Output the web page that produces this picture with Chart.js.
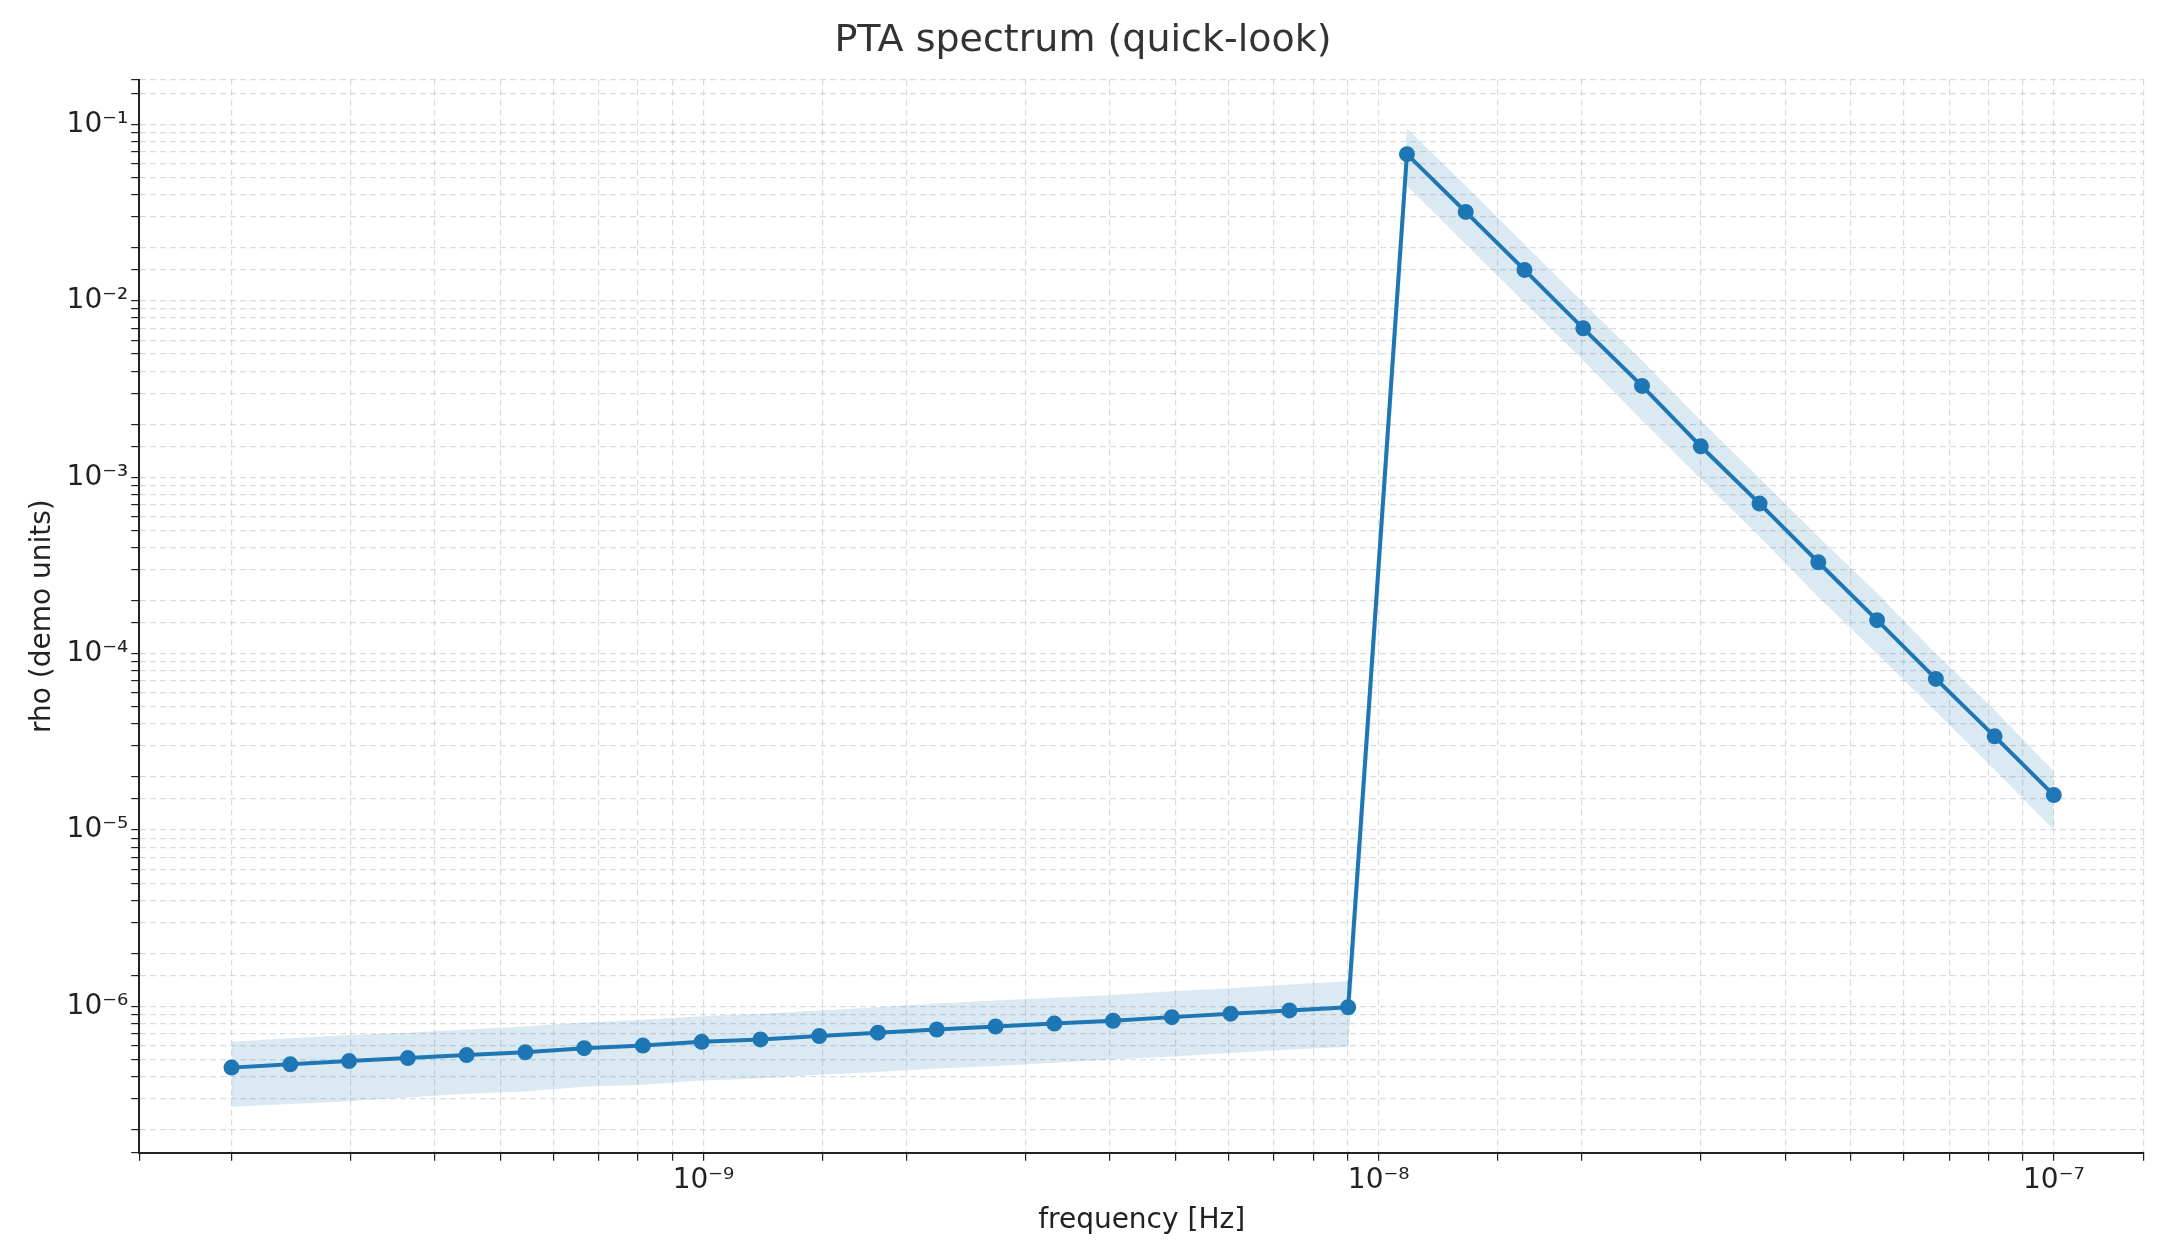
<!DOCTYPE html>
<html><head><meta charset="utf-8">
<script src="https://cdn.jsdelivr.net/npm/chart.js@4"></script>
<style>body{margin:0;background:#fff}#wrap{width:2160px;height:1260px}</style>
</head><body><div id="wrap"><canvas id="c"></canvas></div>
<script>
const freq = [2.000e-10,2.444e-10,2.986e-10,3.649e-10,4.459e-10,5.448e-10,6.657e-10,8.134e-10,9.939e-10,1.2145e-9,
  1.484e-9,1.813e-9,2.216e-9,2.708e-9,3.309e-9,4.043e-9,4.940e-9,6.036e-9,7.376e-9,9.013e-9,
  1.1013e-8,1.3457e-8,1.6443e-8,2.0092e-8,2.455e-8,3.0e-8,3.666e-8,4.479e-8,5.473e-8,6.688e-8,8.172e-8,1.0e-7];
const rho = [4.5e-7,4.7e-7,4.9e-7,5.1e-7,5.3e-7,5.5e-7,5.8e-7,6.0e-7,6.3e-7,6.5e-7,
  6.8e-7,7.1e-7,7.4e-7,7.7e-7,8.0e-7,8.3e-7,8.7e-7,9.1e-7,9.5e-7,9.9e-7,
  0.068,0.032,0.015,0.0070,0.0033,0.0015,0.00071,0.00033,0.000155,0.000072,0.000034,0.0000158];
const rhoLo = [2.7e-7,2.8e-7,2.9e-7,3.05e-7,3.2e-7,3.3e-7,3.5e-7,3.6e-7,3.8e-7,3.9e-7,
  4.1e-7,4.25e-7,4.45e-7,4.6e-7,4.8e-7,5.0e-7,5.2e-7,5.45e-7,5.7e-7,5.9e-7,
  0.045,0.021,0.0098,0.0046,0.0021,0.00098,0.00046,0.00021,0.0001,0.000047,0.000022,0.0000100];
const rhoHi = [6.3e-7,6.6e-7,6.9e-7,7.1e-7,7.4e-7,7.7e-7,8.1e-7,8.4e-7,8.8e-7,9.1e-7,
  9.5e-7,9.9e-7,1.04e-6,1.08e-6,1.12e-6,1.16e-6,1.22e-6,1.27e-6,1.33e-6,1.39e-6,
  0.095,0.045,0.021,0.0098,0.0046,0.0021,0.00099,0.00046,0.00022,0.0001,0.000048,0.0000215];

const pts = a => a.map((v, i) => ({x: freq[i], y: v}));
const sup = {'-':'⁻','0':'⁰','1':'¹','2':'²','3':'³','4':'⁴','5':'⁵','6':'⁶','7':'⁷','8':'⁸','9':'⁹'};
function pow10(v) {
  const e = Math.log10(v);
  if (Math.abs(e - Math.round(e)) > 1e-6) return '';
  return '10' + String(Math.round(e)).split('').map(ch => sup[ch]).join('');
}
const grid = {color: 'rgba(190,190,190,0.55)', lineWidth: 1.2, tickColor: '#222', tickLength: 8, drawTicks: true};
const border = {color: '#222', width: 2, dash: [6, 4]};
const font = {family: 'DejaVu Sans', size: 28};

new Chart(document.getElementById('c'), {
  type: 'line',
  data: {
    datasets: [
      {data: pts(rhoLo), borderWidth: 0, pointRadius: 0, fill: false},
      {data: pts(rhoHi), borderWidth: 0, pointRadius: 0, fill: '-1', backgroundColor: 'rgba(31,119,180,0.16)'},
      {data: pts(rho), borderColor: '#1f77b4', backgroundColor: '#1f77b4', borderWidth: 4,
       pointRadius: 6, pointHoverRadius: 6, fill: false}
    ]
  },
  options: {
    responsive: true, maintainAspectRatio: false, animation: false,
    layout: {padding: {left: 22, right: 16, top: 10, bottom: 18}},
    plugins: {
      legend: {display: false}, tooltip: {enabled: false},
      title: {display: true, text: 'PTA spectrum (quick-look)', color: '#333',
        font: {family: 'DejaVu Sans', size: 38, weight: 'normal'}, padding: {top: 8, bottom: 16}}
    },
    scales: {
      x: {
        type: 'logarithmic', min: 1.46e-10, max: 1.36e-7,
        border: border, grid: grid,
        ticks: {color: '#222', font: font, maxRotation: 0, autoSkip: false, callback: v => pow10(v)},
        title: {display: true, text: 'frequency [Hz]', color: '#222', font: font}
      },
      y: {
        type: 'logarithmic', min: 1.48e-7, max: 0.18,
        border: border, grid: grid,
        ticks: {color: '#222', font: font, autoSkip: false, callback: v => pow10(v)},
        title: {display: true, text: 'rho (demo units)', color: '#222', font: font}
      }
    }
  }
});
</script></body></html>
